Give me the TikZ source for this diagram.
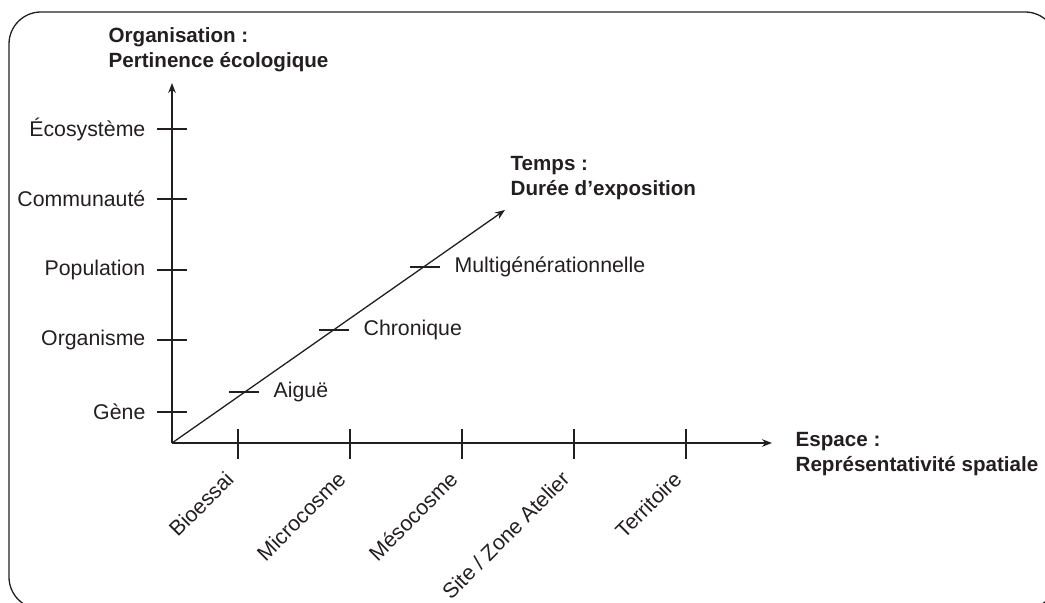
\documentclass[tikz,border=0pt]{standalone}
\usepackage{fontspec}
\setmainfont{Liberation Sans}
\usetikzlibrary{arrows.meta}
\definecolor{ink}{RGB}{35,31,32}
\begin{document}
\begin{tikzpicture}[x=0.5pt,y=-0.5pt, line width=0.65pt, draw=ink, text=ink,
  lab/.style={font=\fontsize{10.65}{12}\selectfont, inner sep=0pt},
  ttl/.style={font=\fontsize{10.3}{12.5}\selectfont\bfseries, align=left, anchor=north west, inner sep=0pt},
  axis/.style={-{Stealth[length=5pt,width=3.8pt]}},
  tickline/.style={line width=0.65pt}]
\useasboundingbox (0,0) rectangle (1045,603);
\draw[rounded corners=16pt] (9,12) rectangle (1057,609);
% axes
\coordinate (O) at (172,443);
\coordinate (Ytip) at (172,83);
\coordinate (Xtip) at (772,443);
\coordinate (Ttip) at (505,210);
\draw[axis] (O) -- (Ytip);
\draw[axis] (O) -- (Xtip);
\draw[axis] (O) -- (Ttip);
% titles
\node[ttl] (orgt) at (108,27) {Organisation :\\Pertinence écologique};
\node[ttl] (tpst) at (510,156) {Temps :\\Durée d’exposition};
\node[ttl] (espt) at (795,432) {Espace :\\Représentativité spatiale};
% vertical ticks
\foreach \y/\t [count=\i] in {129/Écosystème,199/Communauté,270/Population,340/Organisme,412/Gène}{
  \coordinate (yl\i) at (157,\y);
  \coordinate (yr\i) at (187,\y);
  \draw[tickline] (yl\i) -- (yr\i);
  \node[lab,anchor=east] (ylab\i) at (146,\y) {\t};
}
% horizontal ticks
\foreach \x/\t [count=\i] in {238/{Bioessai},350/{Microcosme},462/{Mésocosme},574/{Site / Zone Atelier},686/{Territoire}}{
  \coordinate (xt\i) at (\x,429);
  \coordinate (xb\i) at (\x,459);
  \draw[tickline] (xt\i) -- (xb\i);
  \node[lab,anchor=east,rotate=45] (xlab\i) at (\x-8,475) {\t};
}
% diagonal ticks
\foreach \x/\y/\t [count=\i] in {244/392/Aiguë,334/330/Chronique,425/267/Multigénérationnelle}{
  \coordinate (dl\i) at (\x-15,\y);
  \coordinate (dr\i) at (\x+15,\y);
  \draw[tickline] (dl\i) -- (dr\i);
  \node[lab,anchor=west] (dlab\i) at (\x+29,\y) {\t};
}
\end{tikzpicture}
\end{document}
